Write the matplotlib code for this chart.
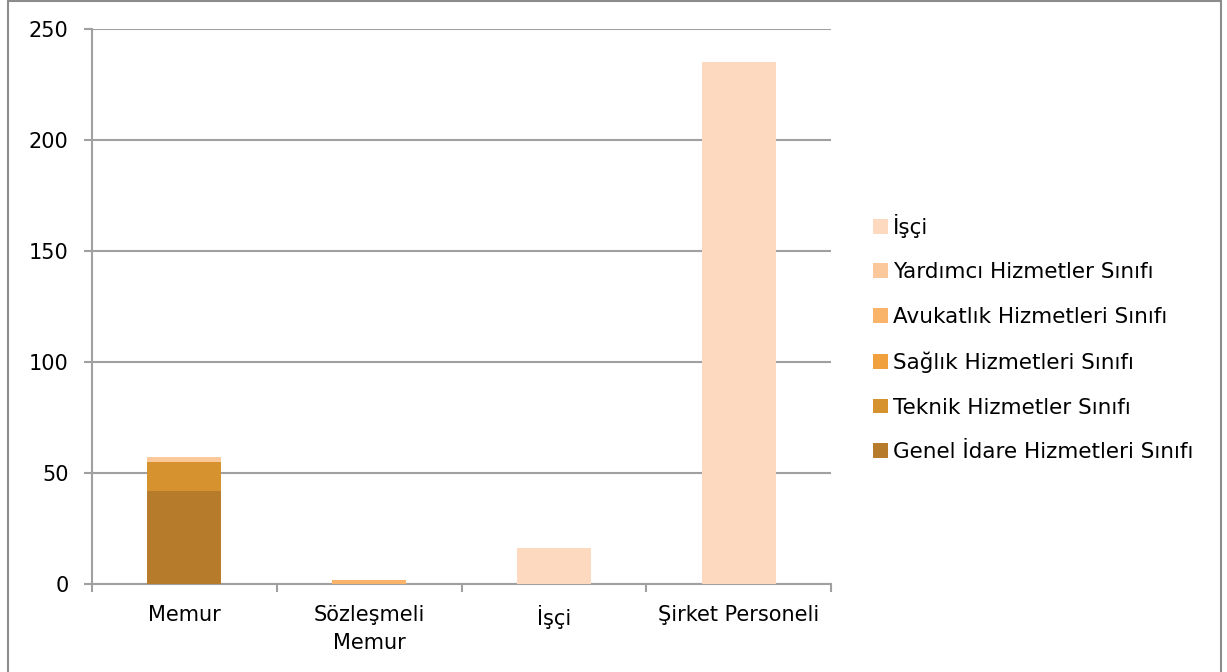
import matplotlib
matplotlib.use("Agg")
import matplotlib.pyplot as plt
from matplotlib.patches import Rectangle
import numpy as np

categories = ["Memur", "Sözleşmeli\nMemur", "İşçi", "Şirket Personeli"]
series_names = ["Genel İdare Hizmetleri Sınıfı", "Teknik Hizmetler Sınıfı",
                "Sağlık Hizmetleri Sınıfı", "Avukatlık Hizmetleri Sınıfı",
                "Yardımcı Hizmetler Sınıfı", "İşçi"]
genel_idare = [42, 0, 0, 0]
teknik = [13, 0, 0, 0]
saglik = [0, 0, 0, 0]
avukatlik = [0, 2, 0, 0]
yardimci = [2, 0, 0, 0]
isci = [0, 0, 16, 235]
series_values = [genel_idare, teknik, saglik, avukatlik, yardimci, isci]
colors = ["#B77B2C", "#D6922F", "#F0A03C", "#F9B469", "#FBC89B", "#FDD9BF"]
yticks = [0, 50, 100, 150, 200, 250]

plt.rcParams['font.family'] = ['DejaVu Sans']
fig = plt.figure(figsize=(12.27, 6.72), dpi=100)
ax = fig.add_axes([92/1227, 1-584/672, (831-92)/1227, (584-29)/672])

x = np.arange(len(categories))
bottom = np.zeros(len(categories))
handles = []
for name, vals, c in zip(series_names, series_values, colors):
    b = ax.bar(x, vals, width=0.4, bottom=bottom, color=c, label=name, zorder=3)
    bottom += np.array(vals)
    handles.append(b)

ax.set_xlim(-0.5, len(categories) - 0.5)
ax.set_ylim(0, 250)
ax.set_yticks(yticks)
ax.set_yticklabels([str(v) for v in yticks], fontsize=15)
ax.yaxis.grid(True, color="#A0A0A0", linewidth=1.5, zorder=0)
ax.set_axisbelow(True)
ax.set_xticks(x)
ax.set_xticklabels(categories, fontsize=15, linespacing=1.5)
ax.tick_params(axis='x', length=0, pad=15)
ax.set_xticks(np.arange(-0.5, len(categories)), minor=True)
ax.tick_params(axis='x', which='minor', length=6, color="#A0A0A0", width=1.5)
ax.tick_params(axis='y', length=6, color="#A0A0A0", width=1.5, pad=11)
for s in ["top", "right"]:
    ax.spines[s].set_visible(False)
for s in ["left", "bottom"]:
    ax.spines[s].set_color("#A0A0A0")
    ax.spines[s].set_linewidth(1.5)

leg = fig.legend(handles[::-1], series_names[::-1], loc="center left",
                 bbox_to_anchor=(873/1227, 1-338/672), frameon=False,
                 fontsize=15.5, handlelength=0.68, handleheight=0.68,
                 handletextpad=0.25, labelspacing=1.14,
                 borderpad=0, borderaxespad=0)

fig.patches.append(Rectangle((8/1227, -0.01), (1221-8)/1227, 1.01 - 1/672,
                             transform=fig.transFigure, fill=False,
                             edgecolor="#8C8C8C", linewidth=1.5))
fig.savefig("out.png", dpi=100)
